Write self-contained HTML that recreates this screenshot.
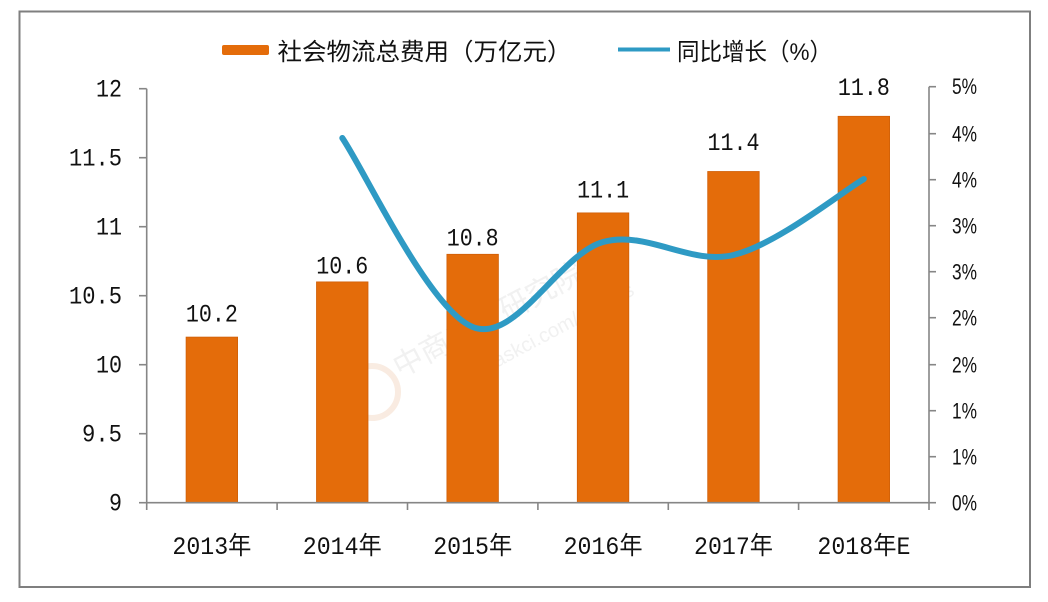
<!DOCTYPE html>
<html>
<head>
<meta charset="utf-8">
<style>
  html,body{margin:0;padding:0;background:#fff;}
  svg{display:block;}
  .num{font-family:"Liberation Mono","Noto Sans CJK SC",monospace;fill:#111;}
  .cjk{font-family:"Liberation Sans","Noto Sans CJK SC",sans-serif;fill:#111;}
  .pct{font-family:"Liberation Sans",sans-serif;fill:#111;}
</style>
</head>
<body>
<svg width="1048" height="602" viewBox="0 0 1048 602" xmlns="http://www.w3.org/2000/svg">
  <rect x="0" y="0" width="1048" height="602" fill="#ffffff"/>
  <!-- outer frame -->
  <rect x="19.5" y="11.5" width="1010.5" height="575.5" fill="none" stroke="#7f7f7f" stroke-width="2"/>

  <!-- watermark -->
  <g opacity="0.25">
    <circle cx="372" cy="392" r="26" fill="none" stroke="#e8b48a" stroke-width="6"/>
    <text x="0" y="0" transform="translate(400,378) rotate(-28)" font-family="Liberation Sans, Noto Sans CJK SC, sans-serif" font-size="30" fill="#c8c8c8">中商产业研究院</text>
    <text x="0" y="0" transform="translate(455,390) rotate(-28)" font-family="Liberation Sans, sans-serif" font-size="20" fill="#c8c8c8">www.askci.com/reports</text>
  </g>

  <!-- legend -->
  <rect x="222" y="45" width="47" height="10" fill="#E46C0A" rx="2"/>
  <text class="cjk" x="277.5" y="60" font-size="24" textLength="294" lengthAdjust="spacingAndGlyphs">社会物流总费用（万亿元）</text>
  <line x1="618" y1="49.5" x2="670" y2="49.5" stroke="#2E9AC4" stroke-width="4"/>
  <text class="cjk" x="677" y="60" font-size="24" textLength="155" lengthAdjust="spacingAndGlyphs">同比增长（%）</text>

  <!-- bars -->
  <g fill="#E46C0A" stroke="#cf5f08" stroke-width="0.8">
    <rect x="186.1" y="337.1" width="51.5" height="165.6"/>
    <rect x="316.5" y="281.9" width="51.5" height="220.8"/>
    <rect x="446.9" y="254.3" width="51.5" height="248.4"/>
    <rect x="577.3" y="212.9" width="51.5" height="289.8"/>
    <rect x="707.7" y="171.5" width="51.5" height="331.2"/>
    <rect x="838.1" y="116.3" width="51.5" height="386.4"/>
  </g>

  <!-- data labels -->
  <g class="num" font-size="25" text-anchor="middle">
    <text x="211.9" y="321.5" textLength="52" lengthAdjust="spacingAndGlyphs">10.2</text>
    <text x="342.3" y="273.5" textLength="52" lengthAdjust="spacingAndGlyphs">10.6</text>
    <text x="472.7" y="245.7" textLength="52" lengthAdjust="spacingAndGlyphs">10.8</text>
    <text x="603.1" y="197.5" textLength="52" lengthAdjust="spacingAndGlyphs">11.1</text>
    <text x="733.5" y="150" textLength="52" lengthAdjust="spacingAndGlyphs">11.4</text>
    <text x="863.9" y="95" textLength="52" lengthAdjust="spacingAndGlyphs">11.8</text>
  </g>

  <!-- axes -->
  <g stroke="#868686" stroke-width="1.6" fill="none">
    <line x1="146.7" y1="88.7" x2="146.7" y2="510"/>
    <line x1="929" y1="86.7" x2="929" y2="510"/>
    <line x1="146.7" y1="502.7" x2="929" y2="502.7"/>
    <!-- left ticks -->
    <line x1="139" y1="88.7" x2="146.7" y2="88.7"/>
    <line x1="139" y1="157.7" x2="146.7" y2="157.7"/>
    <line x1="139" y1="226.7" x2="146.7" y2="226.7"/>
    <line x1="139" y1="295.7" x2="146.7" y2="295.7"/>
    <line x1="139" y1="364.7" x2="146.7" y2="364.7"/>
    <line x1="139" y1="433.7" x2="146.7" y2="433.7"/>
    <line x1="139" y1="502.7" x2="146.7" y2="502.7"/>
    <!-- right ticks -->
    <line x1="929" y1="86.7" x2="936" y2="86.7"/>
    <line x1="929" y1="133.7" x2="936" y2="133.7"/>
    <line x1="929" y1="179.7" x2="936" y2="179.7"/>
    <line x1="929" y1="225.7" x2="936" y2="225.7"/>
    <line x1="929" y1="271.7" x2="936" y2="271.7"/>
    <line x1="929" y1="317.7" x2="936" y2="317.7"/>
    <line x1="929" y1="364.7" x2="936" y2="364.7"/>
    <line x1="929" y1="410.7" x2="936" y2="410.7"/>
    <line x1="929" y1="456.7" x2="936" y2="456.7"/>
    <line x1="929" y1="502.7" x2="936" y2="502.7"/>
    <!-- category ticks -->
    <line x1="277.1" y1="502.7" x2="277.1" y2="510"/>
    <line x1="407.5" y1="502.7" x2="407.5" y2="510"/>
    <line x1="537.9" y1="502.7" x2="537.9" y2="510"/>
    <line x1="668.3" y1="502.7" x2="668.3" y2="510"/>
    <line x1="798.6" y1="502.7" x2="798.6" y2="510"/>
  </g>

  <!-- left axis labels -->
  <g class="num" font-size="25" text-anchor="end">
    <text x="122" y="96.5" textLength="26" lengthAdjust="spacingAndGlyphs">12</text>
    <text x="122" y="165.5" textLength="53" lengthAdjust="spacingAndGlyphs">11.5</text>
    <text x="122" y="234.5" textLength="26" lengthAdjust="spacingAndGlyphs">11</text>
    <text x="122" y="303.5" textLength="53" lengthAdjust="spacingAndGlyphs">10.5</text>
    <text x="122" y="372.5" textLength="26" lengthAdjust="spacingAndGlyphs">10</text>
    <text x="122" y="441.5" textLength="40" lengthAdjust="spacingAndGlyphs">9.5</text>
    <text x="122" y="510.5" textLength="13" lengthAdjust="spacingAndGlyphs">9</text>
  </g>

  <!-- right axis labels -->
  <g class="pct" font-size="22">
    <text x="952" y="94" textLength="25" lengthAdjust="spacingAndGlyphs">5%</text>
    <text x="952" y="141.5" textLength="25" lengthAdjust="spacingAndGlyphs">4%</text>
    <text x="952" y="187.5" textLength="25" lengthAdjust="spacingAndGlyphs">4%</text>
    <text x="952" y="233.5" textLength="25" lengthAdjust="spacingAndGlyphs">3%</text>
    <text x="952" y="279.5" textLength="25" lengthAdjust="spacingAndGlyphs">3%</text>
    <text x="952" y="325.5" textLength="25" lengthAdjust="spacingAndGlyphs">2%</text>
    <text x="952" y="372.5" textLength="25" lengthAdjust="spacingAndGlyphs">2%</text>
    <text x="952" y="418.5" textLength="25" lengthAdjust="spacingAndGlyphs">1%</text>
    <text x="952" y="464.5" textLength="25" lengthAdjust="spacingAndGlyphs">1%</text>
    <text x="952" y="510.5" textLength="25" lengthAdjust="spacingAndGlyphs">0%</text>
  </g>

  <!-- x labels -->
  <g class="num" font-size="25" text-anchor="middle">
    <text x="211.9" y="554" textLength="79" lengthAdjust="spacingAndGlyphs">2013<tspan font-family="Noto Sans CJK SC, sans-serif">年</tspan></text>
    <text x="342.3" y="554" textLength="79" lengthAdjust="spacingAndGlyphs">2014<tspan font-family="Noto Sans CJK SC, sans-serif">年</tspan></text>
    <text x="472.7" y="554" textLength="79" lengthAdjust="spacingAndGlyphs">2015<tspan font-family="Noto Sans CJK SC, sans-serif">年</tspan></text>
    <text x="603.1" y="554" textLength="79" lengthAdjust="spacingAndGlyphs">2016<tspan font-family="Noto Sans CJK SC, sans-serif">年</tspan></text>
    <text x="733.5" y="554" textLength="79" lengthAdjust="spacingAndGlyphs">2017<tspan font-family="Noto Sans CJK SC, sans-serif">年</tspan></text>
    <text x="863.9" y="554" textLength="93" lengthAdjust="spacingAndGlyphs">2018<tspan font-family="Noto Sans CJK SC, sans-serif">年</tspan>E</text>
  </g>

  <!-- growth line -->
  <path d="M342.3,138 C364.0,169.5 429.2,309.7 472.7,327 C515.2,344.3 559.6,254 603.1,242 C646.6,230 690.0,265.5 733.5,255 C777.0,244.5 842.2,191.7 863.9,179"
        fill="none" stroke="#2E9AC4" stroke-width="6" stroke-linecap="round" stroke-linejoin="round"/>
</svg>
</body>
</html>
